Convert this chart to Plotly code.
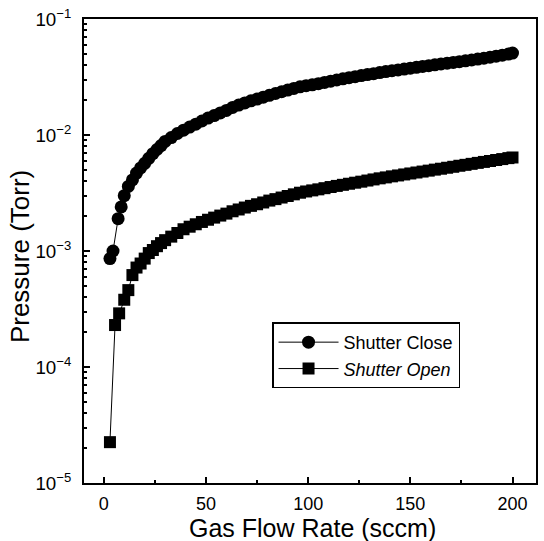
import plotly.graph_objects as go

# Shutter Close (circles)
close_x = [3, 4.5, 7, 8.5, 10, 12, 14, 16, 18, 20, 22, 24, 26, 28, 30, 33, 36, 39, 42, 45,
           48, 51, 54, 57, 60, 63, 66, 69, 72, 75, 78, 81, 84, 87, 90, 93, 96, 99, 102, 105,
           108, 111, 114, 117, 120, 123, 126, 129, 132, 135, 138, 141, 144, 147, 150, 153, 156, 159, 162, 165,
           168, 171, 174, 177, 180, 183, 186, 189, 192, 195, 198, 200]
close_p = [8.6e-4, 1.0e-3, 1.9e-3, 2.4e-3, 3.0e-3, 3.6e-3, 4.1e-3, 4.7e-3, 5.2e-3, 5.7e-3,
           6.3e-3, 6.9e-3, 7.5e-3, 8.1e-3, 8.8e-3, 9.5e-3, 1.03e-2, 1.10e-2, 1.17e-2, 1.24e-2,
           1.32e-2, 1.40e-2, 1.47e-2, 1.55e-2, 1.63e-2, 1.73e-2, 1.81e-2, 1.89e-2, 1.97e-2, 2.04e-2,
           2.12e-2, 2.20e-2, 2.28e-2, 2.36e-2, 2.44e-2, 2.52e-2, 2.60e-2, 2.66e-2, 2.71e-2, 2.77e-2,
           2.84e-2, 2.91e-2, 2.98e-2, 3.05e-2, 3.12e-2, 3.18e-2, 3.25e-2, 3.32e-2, 3.38e-2, 3.45e-2,
           3.52e-2, 3.58e-2, 3.64e-2, 3.70e-2, 3.77e-2, 3.83e-2, 3.90e-2, 3.96e-2, 4.03e-2, 4.10e-2,
           4.16e-2, 4.22e-2, 4.29e-2, 4.36e-2, 4.43e-2, 4.51e-2, 4.59e-2, 4.68e-2, 4.78e-2, 4.88e-2,
           4.98e-2, 5.08e-2]

# Shutter Open (squares)
open_x = [3, 5.5, 7.5, 10, 12, 14, 16, 18, 20, 22, 24, 26, 28, 30, 33, 36, 39, 42, 45,
          48, 51, 54, 57, 60, 63, 66, 69, 72, 75, 78, 81, 84, 87, 90, 93, 96, 99, 102, 105,
          108, 111, 114, 117, 120, 123, 126, 129, 132, 135, 138, 141, 144, 147, 150, 153, 156, 159, 162, 165,
          168, 171, 174, 177, 180, 183, 186, 189, 192, 195, 198, 200]
open_p = [2.25e-5, 2.3e-4, 2.9e-4, 3.8e-4, 4.6e-4, 6.2e-4, 7.2e-4, 7.8e-4, 8.6e-4, 9.6e-4,
          1.02e-3, 1.10e-3, 1.17e-3, 1.24e-3, 1.33e-3, 1.43e-3, 1.54e-3, 1.62e-3, 1.70e-3,
          1.78e-3, 1.86e-3, 1.94e-3, 2.02e-3, 2.10e-3, 2.20e-3, 2.28e-3, 2.37e-3, 2.45e-3, 2.53e-3,
          2.62e-3, 2.72e-3, 2.80e-3, 2.89e-3, 2.98e-3, 3.08e-3, 3.18e-3, 3.26e-3, 3.33e-3, 3.40e-3,
          3.48e-3, 3.56e-3, 3.64e-3, 3.72e-3, 3.80e-3, 3.88e-3, 3.96e-3, 4.05e-3, 4.14e-3, 4.23e-3,
          4.31e-3, 4.40e-3, 4.48e-3, 4.57e-3, 4.66e-3, 4.75e-3, 4.84e-3, 4.93e-3, 5.03e-3, 5.12e-3,
          5.22e-3, 5.32e-3, 5.43e-3, 5.53e-3, 5.64e-3, 5.75e-3, 5.86e-3, 5.97e-3, 6.09e-3, 6.20e-3,
          6.32e-3, 6.40e-3]

x_title = "Gas Flow Rate (sccm)"
y_title = "Pressure (Torr)"

FONT = "Liberation Sans, Arial, sans-serif"

fig = go.Figure()
fig.add_trace(go.Scatter(
    x=close_x, y=close_p, mode="lines+markers", name="Shutter Close",
    line=dict(color="black", width=1),
    marker=dict(symbol="circle", size=13, color="black"),
))
fig.add_trace(go.Scatter(
    x=open_x, y=open_p, mode="lines+markers", name="<i>Shutter Open</i>",
    line=dict(color="black", width=1),
    marker=dict(symbol="square", size=12, color="black"),
))

fig.update_layout(
    width=544, height=541,
    margin=dict(l=84, r=8, t=19, b=58),
    paper_bgcolor="white", plot_bgcolor="white",
    font=dict(family=FONT, color="black"),
    showlegend=True,
    legend=dict(
        x=0.416, y=0.346, xanchor="left", yanchor="top",
        bordercolor="black", borderwidth=1.5, bgcolor="white",
        font=dict(family=FONT, size=18, color="black"),
        tracegroupgap=0, itemwidth=60,
    ),
    annotations=[
        dict(text=x_title, xref="paper", yref="paper", x=0.5055, y=-0.097,
             xanchor="center", yanchor="middle", showarrow=False,
             font=dict(family=FONT, size=25, color="black")),
        dict(text=y_title, xref="paper", yref="paper", x=-0.1416, y=0.489,
             xanchor="center", yanchor="middle", showarrow=False, textangle=-90,
             font=dict(family=FONT, size=26, color="black")),
    ],
)

fig.update_xaxes(
    range=[-9.7, 211.5], automargin=False,
    tickvals=[0, 50, 100, 150, 200],
    ticks="inside", ticklen=6, tickwidth=1.5, tickcolor="black",
    minor=dict(tickvals=[25, 75, 125, 175], ticks="inside", ticklen=3, tickcolor="black"),
    showline=True, linecolor="black", linewidth=1.5, mirror=True,
    showgrid=False, zeroline=False,
    tickfont=dict(family=FONT, size=18, color="black"),
    ticklabelstandoff=4,
)
fig.update_yaxes(
    type="log", range=[-5, -1], automargin=False,
    dtick=1, exponentformat="power", showexponent="all",
    ticks="inside", ticklen=6, tickwidth=1.5, tickcolor="black",
    minor=dict(ticks="inside", ticklen=3, tickcolor="black", showgrid=False),
    showline=True, linecolor="black", linewidth=1.5, mirror=True,
    showgrid=False, zeroline=False,
    tickfont=dict(family=FONT, size=15, color="black"),
    ticklabelstandoff=8,
)

fig.write_html("out.html")
